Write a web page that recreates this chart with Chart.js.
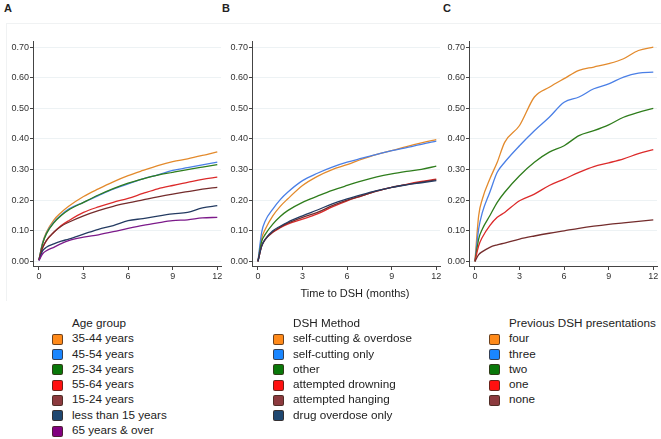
<!DOCTYPE html>
<html>
<head>
<meta charset="utf-8">
<script src="https://cdn.jsdelivr.net/npm/chart.js@4"></script>
<style>
  body { margin: 0; background: #fff; font-family: "Liberation Sans", Arial, sans-serif; color: #222; }
  #wrap { position: relative; width: 661px; height: 439px; overflow: hidden; }
  canvas { position: absolute; top: 0; }
  .letter { position: absolute; top: 2px; font-weight: bold; font-size: 11px; }
  .frame { position: absolute; left: 6px; top: 23px; width: 660px; height: 277px;
           border-top: 1px solid #f0f2f3; border-left: 1px solid #f0f2f3; }
  .xtitle { position: absolute; top: 287px; left: 255px; width: 200px; text-align: center; font-size: 11px; }
  .legend { position: absolute; top: 315px; font-size: 11.7px; line-height: 15.3px; }
  .legend .row { position: relative; padding-left: 20px; white-space: nowrap; }
  .legend .box { position: absolute; left: 0; top: 3.5px; width: 9px; height: 9px; border-radius: 2px;
                 border: 1px solid rgba(60,40,30,0.75); }
</style>
</head>
<body>
<div id="wrap">
  <div class="frame"></div>
  <div class="letter" style="left:4px">A</div>
  <div class="letter" style="left:222px">B</div>
  <div class="letter" style="left:443px">C</div>
  <canvas id="chartA" width="225" height="290" style="left:0px"></canvas>
  <canvas id="chartB" width="225" height="290" style="left:220px"></canvas>
  <canvas id="chartC" width="224" height="290" style="left:437px"></canvas>
  <div class="xtitle">Time to DSH (months)</div>
  <div class="legend" id="legendA" style="left:52px"></div>
  <div class="legend" id="legendB" style="left:273px"></div>
  <div class="legend" id="legendC" style="left:489px"></div>
</div>
<script>
// time points (months) and tick labels
const months = [0, 0.25, 0.5, 1, 1.5, 2, 3, 4, 5, 6, 7, 8, 9, 10, 11, 12];
const xTicks = [0, 3, 6, 9, 12];
const yTicks = [0, 0.1, 0.2, 0.3, 0.4, 0.5, 0.6, 0.7];

// A: age group
const ageTitle = "Age group";
const ageLabels = ["35-44 years", "45-54 years", "25-34 years", "55-64 years", "15-24 years", "less than 15 years", "65 years & over"];
const age3544 = [0.005, 0.062, 0.095, 0.135, 0.160, 0.180, 0.212, 0.237, 0.260, 0.280, 0.297, 0.313, 0.326, 0.335, 0.346, 0.358];
const age4554 = [0.005, 0.060, 0.092, 0.128, 0.152, 0.171, 0.193, 0.215, 0.236, 0.253, 0.270, 0.283, 0.297, 0.306, 0.315, 0.324];
const age2534 = [0.005, 0.058, 0.090, 0.126, 0.150, 0.168, 0.193, 0.217, 0.238, 0.256, 0.270, 0.282, 0.291, 0.300, 0.308, 0.316];
const age5564 = [0.005, 0.045, 0.068, 0.095, 0.117, 0.133, 0.160, 0.178, 0.193, 0.206, 0.222, 0.237, 0.248, 0.258, 0.268, 0.275];
const age1524 = [0.005, 0.045, 0.068, 0.095, 0.115, 0.128, 0.149, 0.166, 0.180, 0.191, 0.201, 0.211, 0.220, 0.228, 0.236, 0.242];
const ageUnder15 = [0.003, 0.035, 0.046, 0.057, 0.066, 0.073, 0.089, 0.105, 0.117, 0.133, 0.140, 0.148, 0.155, 0.160, 0.175, 0.182];
const age65plus = [0.003, 0.025, 0.035, 0.046, 0.058, 0.068, 0.079, 0.087, 0.097, 0.108, 0.118, 0.126, 0.133, 0.136, 0.142, 0.144];

// B: DSH method
const methodTitle = "DSH Method";
const methodLabels = ["self-cutting & overdose", "self-cutting only", "other", "attempted drowning", "attempted hanging", "drug overdose only"];
const cutOverdose = [0, 0.075, 0.106, 0.149, 0.180, 0.204, 0.248, 0.278, 0.300, 0.316, 0.334, 0.350, 0.362, 0.375, 0.387, 0.398];
const cutOnly = [0, 0.095, 0.133, 0.171, 0.202, 0.226, 0.264, 0.288, 0.308, 0.324, 0.337, 0.350, 0.362, 0.372, 0.382, 0.393];
const otherMethod = [0, 0.065, 0.089, 0.122, 0.147, 0.166, 0.193, 0.213, 0.232, 0.248, 0.263, 0.276, 0.286, 0.294, 0.301, 0.311];
const drowning = [0, 0.050, 0.073, 0.095, 0.110, 0.122, 0.138, 0.155, 0.178, 0.198, 0.214, 0.230, 0.242, 0.252, 0.261, 0.269];
const hanging = [0, 0.050, 0.072, 0.096, 0.112, 0.125, 0.144, 0.160, 0.182, 0.200, 0.215, 0.230, 0.242, 0.251, 0.259, 0.266];
const overdoseOnly = [0, 0.050, 0.073, 0.100, 0.115, 0.128, 0.149, 0.168, 0.188, 0.204, 0.218, 0.231, 0.242, 0.250, 0.257, 0.264];

// C: previous DSH presentations
const prevTitle = "Previous DSH presentations";
const prevLabels = ["four", "three", "two", "one", "none"];
const prevFour = [0, 0.149, 0.204, 0.269, 0.324, 0.389, 0.444, 0.537, 0.569, 0.597, 0.624, 0.635, 0.646, 0.662, 0.689, 0.700];
const prevThree = [0, 0.106, 0.160, 0.226, 0.291, 0.324, 0.378, 0.427, 0.471, 0.520, 0.537, 0.564, 0.580, 0.602, 0.615, 0.618];
const prevTwo = [0, 0.073, 0.106, 0.149, 0.193, 0.226, 0.280, 0.324, 0.357, 0.378, 0.411, 0.427, 0.446, 0.471, 0.487, 0.500];
const prevOne = [0, 0.051, 0.079, 0.117, 0.144, 0.160, 0.198, 0.220, 0.248, 0.269, 0.291, 0.310, 0.322, 0.335, 0.352, 0.365];
const prevNone = [0, 0.022, 0.032, 0.046, 0.054, 0.060, 0.073, 0.083, 0.092, 0.100, 0.108, 0.115, 0.121, 0.126, 0.131, 0.136];

// colours: lines and legend boxes
const lineColors = {
  orange: "#e38a2c", blue: "#4a7fe6", green: "#2f7d1c", red: "#dc2a2a",
  brown: "#742c2c", navy: "#243b62", purple: "#7c1a8a"
};
const boxColors = {
  orange: "#ff8a1a", blue: "#1a86ff", green: "#0a780a", red: "#ff1010",
  brown: "#8c3a3e", navy: "#1f4770", purple: "#820080"
};

const ageColors = ["orange", "blue", "green", "red", "brown", "navy", "purple"];
const methodColors = ["orange", "blue", "green", "red", "brown", "navy"];
const prevColors = ["orange", "blue", "green", "red", "brown"];

function makeDatasets(labels, series, colors) {
  return labels.map(function (label, i) {
    return {
      label: label,
      data: months.map(function (m, j) { return { x: m, y: series[i][j] }; }),
      borderColor: lineColors[colors[i]],
      borderWidth: 1.3,
      pointRadius: 0,
      fill: false,
      cubicInterpolationMode: "monotone"
    };
  }).reverse();
}

function makeChart(id, datasets, rightPad, axisWidth) {
  const tickFont = { family: "Liberation Sans, Arial, sans-serif", size: 9 };
  new Chart(document.getElementById(id), {
    type: "line",
    data: { datasets: datasets },
    options: {
      responsive: false,
      animation: false,
      layout: { padding: { top: 41, right: rightPad, bottom: 0, left: 0 } },
      plugins: { legend: { display: false }, tooltip: { enabled: false } },
      scales: {
        x: {
          type: "linear",
          min: -0.4,
          max: 12.25,
          afterBuildTicks: function (scale) {
            scale.ticks = xTicks.map(function (v) { return { value: v }; });
          },
          afterFit: function (scale) { scale.height = 24; },
          grid: { drawOnChartArea: false, tickLength: 4, tickColor: "#444" },
          border: { color: "#444", width: 1 },
          ticks: { font: tickFont, color: "#333", padding: 1, maxRotation: 0 }
        },
        y: {
          min: -0.015,
          max: 0.72,
          afterBuildTicks: function (scale) {
            scale.ticks = yTicks.map(function (v) { return { value: v }; });
          },
          afterFit: function (scale) { scale.width = axisWidth; },
          grid: { color: "#edf2f4", tickLength: 3, tickColor: "#444" },
          border: { color: "#444", width: 1 },
          ticks: {
            font: tickFont, color: "#333", padding: 1,
            callback: function (v) { return v.toFixed(2); }
          }
        }
      }
    }
  });
}

function makeLegend(id, title, labels, colors) {
  const el = document.getElementById(id);
  let html = '<div class="row">' + title + "</div>";
  labels.forEach(function (label, i) {
    html += '<div class="row"><span class="box" style="background:' + boxColors[colors[i]] +
      '"></span>' + label + "</div>";
  });
  el.innerHTML = html;
}

makeChart("chartA", makeDatasets(ageLabels,
  [age3544, age4554, age2534, age5564, age1524, ageUnder15, age65plus], ageColors), 4, 33);
makeChart("chartB", makeDatasets(methodLabels,
  [cutOverdose, cutOnly, otherMethod, drowning, hanging, overdoseOnly], methodColors), 5, 32);
makeChart("chartC", makeDatasets(prevLabels,
  [prevFour, prevThree, prevTwo, prevOne, prevNone], prevColors), 4, 32);

makeLegend("legendA", ageTitle, ageLabels, ageColors);
makeLegend("legendB", methodTitle, methodLabels, methodColors);
makeLegend("legendC", prevTitle, prevLabels, prevColors);
</script>
</body>
</html>
